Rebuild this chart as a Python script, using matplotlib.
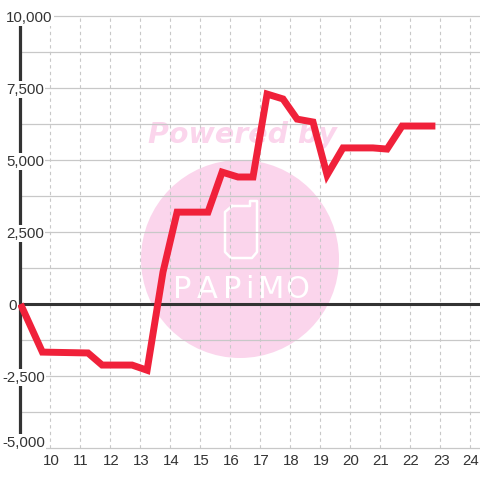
import matplotlib
matplotlib.use("Agg")
import matplotlib.pyplot as plt
from matplotlib.patches import Circle

# hours on the x axis, value on the y axis
hours = [9.0, 9.73, 11.25, 11.72, 12.72, 13.22, 13.75, 14.22, 15.25, 15.72, 16.25,
         16.75, 17.22, 17.75, 18.22, 18.75, 19.22, 19.75, 20.75, 21.22, 21.72, 22.83]
values = [0, -1670, -1700, -2120, -2120, -2300, 1110, 3190, 3190, 4580, 4410,
          4410, 7290, 7120, 6420, 6320, 4480, 5420, 5420, 5380, 6180, 6180]
x_ticks = list(range(10, 25))
y_ticks = [10000, 7500, 5000, 2500, 0, -2500, -5000]
y_minor = [8750, 6250, 3750, 1250, -1250, -3750]

TEXT = "#333333"
GRID = "#c8c8c8"
PINK = "#fbd5ec"
RED = "#f0213a"

plt.rcParams["font.family"] = ["Liberation Sans", "DejaVu Sans"]

fig = plt.figure(figsize=(4.8, 4.8), dpi=100)
ax = fig.add_axes([0, 0, 1, 1])
ax.set_xlim(8.317, 24.317)
ax.set_ylim(-6111, 10556)
ax.axis("off")

# pixel position helper for the bits that are placed in picture space
tr = ax.transAxes
def px(x, y):
    return x / 480, 1 - y / 480

# watermark
ax.add_patch(Circle(px(240, 259), 99 / 480, transform=tr, color=PINK, lw=0, zorder=1))
ax.text(*px(242, 135), "Powered by", transform=tr, color=PINK, fontsize=20.5, fontweight="bold",
        style="italic", family="DejaVu Sans", ha="center", va="center", zorder=1)
phone = [(232, 206), (250, 206), (250, 201), (257, 201), (257, 252), (252, 258),
         (231, 258), (225, 252), (225, 212), (232, 206)]
ax.plot([px(*p)[0] for p in phone], [px(*p)[1] for p in phone], transform=tr, color="white",
        lw=1.8, solid_joinstyle="round", zorder=1.5)
for letter, cx in zip("PAPiMO", [182, 207, 232, 249, 271, 297]):
    ax.text(*px(cx, 290), letter, transform=tr, color="white", fontsize=22, family="DejaVu Sans",
            ha="center", va="center", zorder=1.5)

# grid
for v in y_ticks + y_minor:
    ax.plot([9, 24.317], [v, v], color=GRID, lw=0.9, zorder=2)
for h in x_ticks:
    ax.plot([h, h], [-5000, 10000], color=GRID, lw=0.8, ls=(0, (3, 3)), zorder=2)

# axes lines
ax.plot([9, 9], [-4583, 10000], color=TEXT, lw=2.3, solid_capstyle="butt", zorder=3)
ax.plot([9, 24.317], [0, 0], color=TEXT, lw=2.2, solid_capstyle="butt", zorder=3)

ax.plot(hours, values, color=RED, lw=5, solid_joinstyle="miter", solid_capstyle="butt", zorder=4)

# tick labels, white box hides the lines behind
for v in y_ticks:
    left = 2 if v < 0 else 6
    if v == 0:
        left = 8
    # bottom label is pushed up to stay inside the plot
    y_pos = ax.transLimits.transform((9, v))[1] - 1.5 / 480
    if v == -5000:
        y_pos += 7 / 480
    ax.text(left / 480, y_pos, f"{v:,}", transform=tr, color=TEXT, fontsize=10.8,
            ha="left", va="center", zorder=5, bbox=dict(fc="white", ec="none", pad=1))
for h in x_ticks:
    ax.text(h + 0.02, -5460, str(h), color=TEXT, fontsize=10.8, ha="center", va="center", zorder=5)

fig.savefig("out.png", dpi=100)
